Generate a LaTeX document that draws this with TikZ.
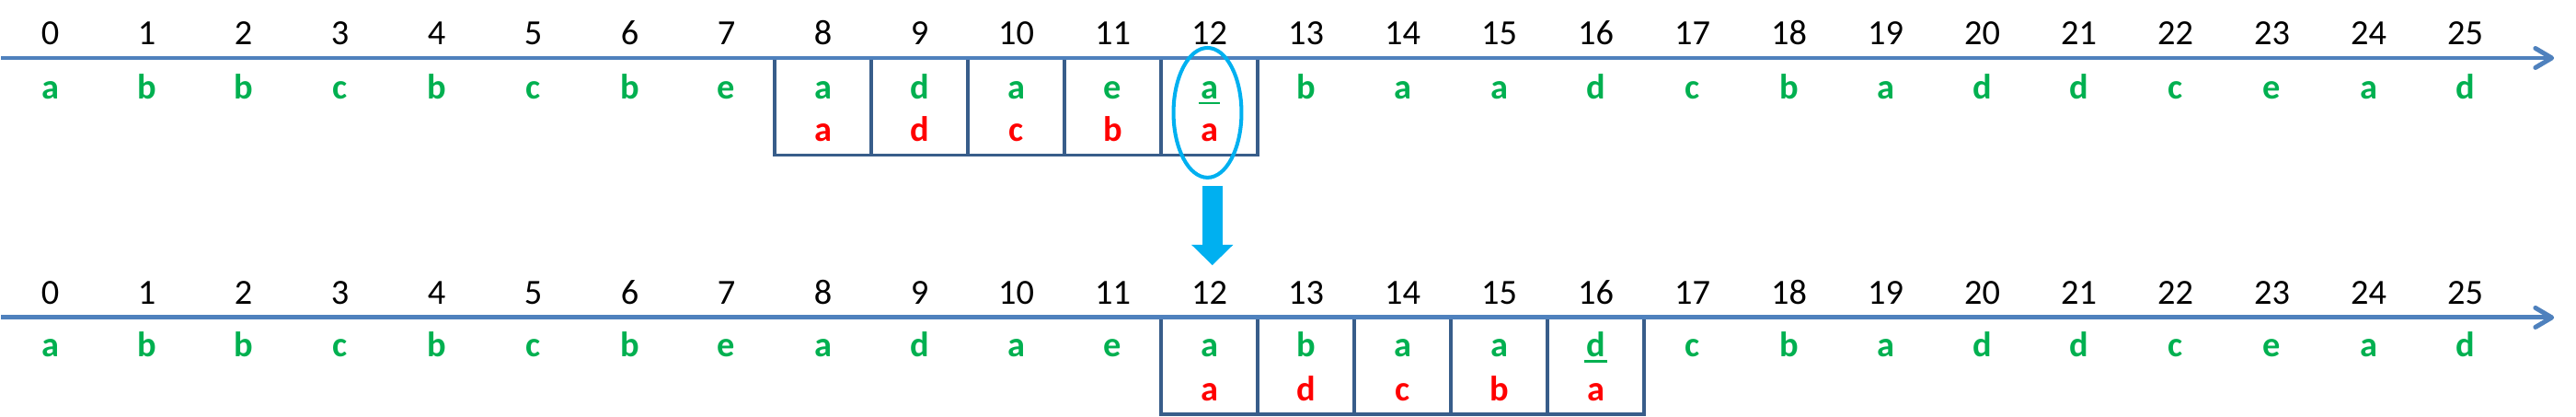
\documentclass[tikz,border=0pt]{standalone}
\usepackage{fontspec}
\setmainfont{Carlito}
\usetikzlibrary{arrows.meta,positioning,shapes.geometric}
\definecolor{axisBlue}{RGB}{79,129,189}
\definecolor{cellBlue}{RGB}{56,93,138}
\definecolor{textGreen}{RGB}{0,176,80}
\definecolor{textRed}{RGB}{255,0,0}
\definecolor{markCyan}{RGB}{0,176,240}
% underlined letter with a thicker bar
\newcommand{\ulsym}[1]{\setbox0\hbox{#1}%
  \makebox[0pt][l]{\hspace{-0.6pt}\raisebox{-1.5pt}{\rule{\dimexpr\wd0+1.2pt\relax}{0.65pt}}}\box0}

\begin{document}
\begin{tikzpicture}[
  num/.style={anchor=base, inner sep=0pt, font=\fontsize{10.4}{12}\selectfont},
  sym/.style={anchor=base, inner sep=0pt, text=textGreen,
    font=\fontsize{10.4}{12}\selectfont\bfseries},
  pat/.style={sym, text=textRed},
  cell/.style={draw=cellBlue, line width=0.9pt, minimum width=1cm,
    minimum height=1cm, inner sep=0pt},
  timeline/.style={draw=axisBlue, line width=1.35pt,
    -{Straight Barb[length=1.7mm, width=2mm, round]}},
  >=Stealth
]
\useasboundingbox (0,0) rectangle (26.667,4.314);
% pattern windows
\foreach \i in {8,...,12} \node[cell] (tc\i) at (0.52+\i,3.21) {};
\foreach \i in {12,...,16} \node[cell] (bc\i) at (0.52+\i,0.529) {};
% text rows, before the shift
\foreach \s [count=\i from 0] in {a,b,b,c,b,c,b,e,a,d,a,e,{\ulsym{a}},b,a,a,d,c,b,a,d,d,c,e,a,d} {
  \node[num] (tn\i) at (0.52+\i,3.848) {\i};
  \node[sym] (ts\i) at (0.52+\i,3.286) {\s};
}
% text rows, after the shift
\foreach \s [count=\i from 0] in {a,b,b,c,b,c,b,e,a,d,a,e,a,b,a,a,{\ulsym{d}},c,b,a,d,d,c,e,a,d} {
  \node[num] (bn\i) at (0.52+\i,1.171) {\i};
  \node[sym] (bs\i) at (0.52+\i,0.619) {\s};
}
% pattern letters
\foreach \p [count=\k from 8] in {a,d,c,b,a} \node[pat] (tp\k) at (0.52+\k,2.848) {\p};
\foreach \p [count=\k from 12] in {a,d,c,b,a} \node[pat] (bp\k) at (0.52+\k,0.171) {\p};
% axes
\coordinate (tstart) at (0.01,3.714);
\coordinate (tend) at (26.44,3.714);
\coordinate (bstart) at (0.01,1.029);
\coordinate (bend) at (26.44,1.029);
\draw[timeline] (tstart) -- (tend);
\draw[timeline] (bstart) -- (bend);
% mismatch mark and jump
\node[draw=markCyan, line width=1.1pt, ellipse, minimum width=0.704cm,
  minimum height=1.342cm, inner sep=0pt] (mark) at (12.50,3.148) {};
\coordinate (jfrom) at (12.55,2.39);
\coordinate (jto) at (12.55,1.571);
\draw[markCyan, line width=2.1mm,
  -{Triangle[width=4.3mm, length=2.1mm, line width=0pt]}] (jfrom) -- (jto);
\end{tikzpicture}
\end{document}
